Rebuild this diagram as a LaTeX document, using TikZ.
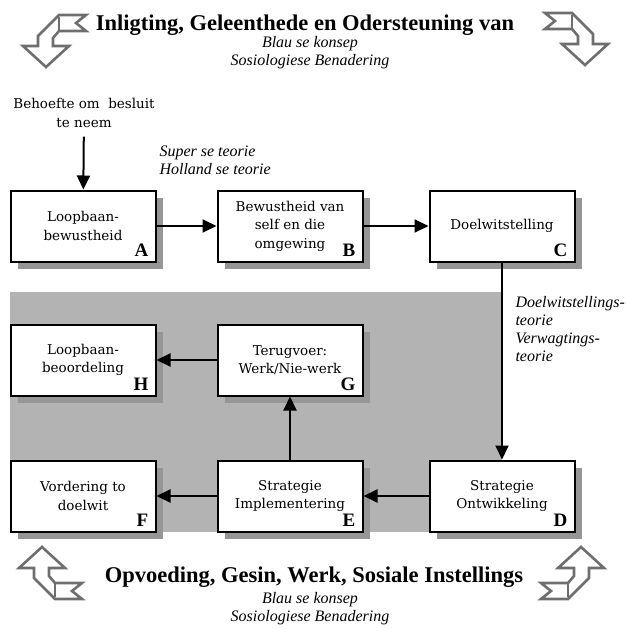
\documentclass[tikz,border=0pt]{standalone}
\usepackage{fontspec}
\setmainfont{DejaVu Serif}
\newfontfamily\timesfont{Liberation Serif}
\usetikzlibrary{arrows.meta,shadows}
\definecolor{panelGray}{RGB}{179,179,179}
\definecolor{shadowGray}{RGB}{150,150,150}
\definecolor{iconGray}{RGB}{110,110,110}

\tikzset{
  twistarrow/.pic={
    \draw[iconGray, line width=2.6pt, line join=miter, fill=white]
      (0,0) -- (23,21) -- (7,21) -- (7,29) -- (13,36) -- (40,36) -- (30,44) -- (40,52)
      -- (13,52) -- (-8,31) -- (-8,21) -- (-23,21) -- cycle;
    \draw[iconGray, line width=2pt] (13,36) -- (13,50);
  }
}

\begin{document}
\begin{tikzpicture}[x=1pt, y=-1pt, >={Triangle[length=14pt,width=13pt]},
  stage/.style={draw, line width=2pt, fill=white, minimum width=145pt, minimum height=71pt,
     align=center, font=\fontsize{13.5}{18.5}\selectfont,
     drop shadow={shadow xshift=7pt, shadow yshift=-7pt, fill=shadowGray, opacity=1}},
  tag/.style={anchor=south east, inner xsep=8pt, inner ysep=6pt,
     font=\timesfont\bfseries\fontsize{19}{19}\selectfont},
  link/.style={->, line width=2pt},
  theory/.style={align=left, font=\timesfont\itshape\fontsize{16}{18}\selectfont},
  banner/.style={font=\timesfont\bfseries\fontsize{22.5}{24}\selectfont}]
  \useasboundingbox (0,0) rectangle (626,629);
  \fill[panelGray] (10,292) rectangle (502,532);

  % headers and the corner arrows
  \node[banner] (topTitle) at (305,25) {Inligting, Geleenthede en Odersteuning van};
  \node[theory, align=center] (topSub) at (310,53) {Blau se konsep\\Sosiologiese Benadering};
  \node[banner] (botTitle) at (314,577) {Opvoeding, Gesin, Werk, Sosiale Instellings};
  \node[theory, align=center] (botSub) at (310,609) {Blau se konsep\\Sosiologiese Benadering};
  \pic[yscale=-1] at (46,67) {twistarrow};
  \pic[xscale=-1, yscale=-1] at (585,65) {twistarrow};
  \pic at (42,547) {twistarrow};
  \pic[xscale=-1] at (581,547) {twistarrow};

  \node[align=center, inner ysep=9pt, font=\fontsize{13.5}{18.5}\selectfont] (need) at (84,113) {Behoefte om\ \ besluit\\te neem};
  \node[theory, anchor=west] (supTheory) at (156,160) {Super se teorie\\Holland se teorie};
  \node[theory, anchor=west] (goalTheory) at (512,329) {Doelwitstellings-\\teorie\\Verwagtings-\\teorie};

  \node[stage] (A) at (83,226)  {Loopbaan-\\bewustheid};
  \node[stage] (B) at (290,226) {Bewustheid van\\self en die\\omgewing};
  \node[stage] (C) at (502,226) {Doelwitstelling};
  \node[stage] (H) at (83,360)  {Loopbaan-\\beoordeling};
  \node[stage] (G) at (290,360) {Terugvoer:\\Werk/Nie-werk};
  \node[stage] (F) at (83,496)  {Vordering to\\doelwit};
  \node[stage] (E) at (290,496) {Strategie\\Implementering};
  \node[stage] (D) at (502,496) {Strategie\\Ontwikkeling};
  \foreach \s in {A,B,C,D,E,F,G,H}
    \node[tag] (\s-tag) at (\s.south east) {\s};

  \draw[link] (need) -- (A);
  \draw[link] (A) -- (B);
  \draw[link] (B) -- (C);
  \draw[link] (C) -- (D);
  \draw[link] (D) -- (E);
  \draw[link] (E) -- (F);
  \draw[link] (E) -- (G);
  \draw[link] (G) -- (H);
\end{tikzpicture}
\end{document}
